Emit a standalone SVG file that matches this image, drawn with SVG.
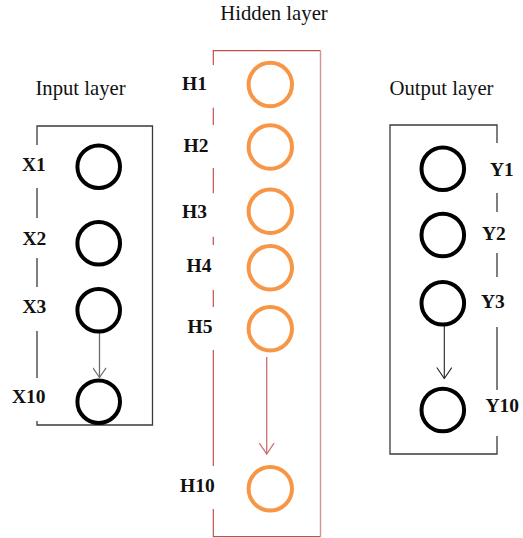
<svg xmlns="http://www.w3.org/2000/svg" width="523" height="538" viewBox="0 0 523 538">
  <style>
    .title { font-family: "Liberation Serif", "Times New Roman", serif; font-size: 20.7px; fill: #111; }
    .lbl { font-family: "Liberation Serif", "Times New Roman", serif; font-size: 19.5px; font-weight: bold; fill: #111; }
    .box-io { fill: none; stroke: #3a3a3a; stroke-width: 1.3; }
    .box-h { fill: none; stroke: #c0504d; stroke-width: 1.2; }
    .box-h-r { fill: none; stroke: #d98f8e; stroke-width: 1.4; }
    .node-io { fill: #fff; stroke: #000; stroke-width: 4; }
    .node-h { fill: #fff; stroke: #f79646; stroke-width: 4; }
    .conn-x { stroke: #6a6a6a; stroke-width: 1.3; fill: none; }
    .conn-h { stroke: #c97070; stroke-width: 1.3; fill: none; }
    .conn-y { stroke: #222; stroke-width: 1.1; fill: none; }
  </style>
  <defs>
    <marker id="head-x" viewBox="0 0 12 16" refX="11.5" refY="8" markerUnits="userSpaceOnUse" markerWidth="11" markerHeight="14" orient="auto">
      <path d="M0.5,0.5 L11.5,8 L0.5,15.5" fill="none" stroke="#6a6a6a" stroke-width="1.3"/>
    </marker>
    <marker id="head-h" viewBox="0 0 12 16" refX="11.5" refY="8" markerUnits="userSpaceOnUse" markerWidth="12" markerHeight="16" orient="auto">
      <path d="M0.5,0.5 L11.5,8 L0.5,15.5" fill="none" stroke="#c97070" stroke-width="1.3"/>
    </marker>
    <marker id="head-y" viewBox="0 0 12 16" refX="11.5" refY="8" markerUnits="userSpaceOnUse" markerWidth="12" markerHeight="16" orient="auto">
      <path d="M0.5,0.5 L11.5,8 L0.5,15.5" fill="none" stroke="#222" stroke-width="1.1"/>
    </marker>
  </defs>

  <!-- column titles -->
  <text class="title" x="274" y="20" text-anchor="middle">Hidden layer</text>
  <text class="title" x="80.5" y="95" text-anchor="middle">Input layer</text>
  <text class="title" x="441.5" y="95" text-anchor="middle">Output layer</text>

  <!-- input frame: left side broken around the labels -->
  <g id="input-frame">
    <path class="box-io" d="M37,145 V126 H152.5 V425 H37 V421 M37,188 V218 M37,258 V287 M37,331 V378"/>
  </g>

  <!-- hidden frame: left side broken around the labels -->
  <g id="hidden-frame">
    <path class="box-h" d="M213.3,65 V50.7 H320.5 M320.5,536.7 H213.3 V509 M213.3,107.7 V125 M213.3,168 V193.3 M213.3,236.7 V245 M213.3,290 V307 M213.3,350 V466"/>
    <path class="box-h-r" d="M320.5,50.7 V536.7"/>
  </g>

  <!-- output frame: right side broken around the labels -->
  <g id="output-frame">
    <path class="box-io" d="M497,143 V125 H390 V454 H497 V436 M497,193 V212 M497,253 V277 M497,327 V390"/>
  </g>

  <!-- connectors -->
  <g id="connectors">
    <line class="conn-x" x1="99.5" y1="333" x2="99.5" y2="377.5" marker-end="url(#head-x)"/>
    <line class="conn-h" x1="266.7" y1="357" x2="266.7" y2="454" marker-end="url(#head-h)"/>
    <line class="conn-y" x1="444.3" y1="326" x2="444.3" y2="378.5" marker-end="url(#head-y)"/>
  </g>

  <!-- input nodes -->
  <g id="X1"><circle class="node-io" cx="98.7" cy="166.7" r="21.3"/><text class="lbl" x="22" y="171">X1</text></g>
  <g id="X2"><circle class="node-io" cx="98.7" cy="243.3" r="21.3"/><text class="lbl" x="22.5" y="245">X2</text></g>
  <g id="X3"><circle class="node-io" cx="98.7" cy="310.3" r="21.3"/><text class="lbl" x="22.5" y="312.7">X3</text></g>
  <g id="X10"><circle class="node-io" cx="98.7" cy="401.7" r="21.3"/><text class="lbl" x="12" y="403.3">X10</text></g>

  <!-- hidden nodes -->
  <g id="H1"><circle class="node-h" cx="270.3" cy="84.5" r="21.7"/><text class="lbl" x="182" y="90">H1</text></g>
  <g id="H2"><circle class="node-h" cx="270.3" cy="147" r="21.7"/><text class="lbl" x="183.5" y="152.3">H2</text></g>
  <g id="H3"><circle class="node-h" cx="270.3" cy="211.2" r="21.7"/><text class="lbl" x="182" y="218.3">H3</text></g>
  <g id="H4"><circle class="node-h" cx="270.3" cy="267.8" r="21.7"/><text class="lbl" x="186.5" y="272.3">H4</text></g>
  <g id="H5"><circle class="node-h" cx="270.3" cy="328.8" r="21.7"/><text class="lbl" x="187.5" y="333.3">H5</text></g>
  <g id="H10"><circle class="node-h" cx="270.3" cy="488.8" r="21.7"/><text class="lbl" x="180" y="491.7">H10</text></g>

  <!-- output nodes -->
  <g id="Y1"><circle class="node-io" cx="442.8" cy="168.8" r="21.3"/><text class="lbl" x="490" y="176">Y1</text></g>
  <g id="Y2"><circle class="node-io" cx="442.8" cy="235" r="21.3"/><text class="lbl" x="482" y="240">Y2</text></g>
  <g id="Y3"><circle class="node-io" cx="442.8" cy="303.3" r="21.3"/><text class="lbl" x="481" y="308.3">Y3</text></g>
  <g id="Y10"><circle class="node-io" cx="442.8" cy="410" r="21.3"/><text class="lbl" x="485.5" y="411.7">Y10</text></g>
</svg>
